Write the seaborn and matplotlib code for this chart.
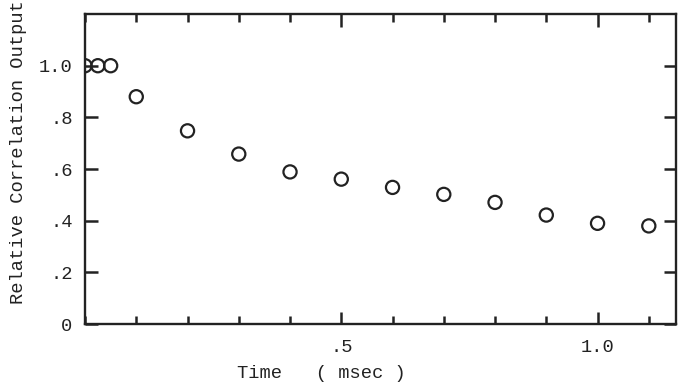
import numpy as np
import pandas as pd
import seaborn as sns
import matplotlib.pyplot as plt
from matplotlib.ticker import FixedLocator, MultipleLocator

time_msec = [0.0, 0.025, 0.05, 0.1, 0.2, 0.3, 0.4, 0.5, 0.6, 0.7, 0.8, 0.9, 1.0, 1.1]
rel_output = [1.0, 1.0, 1.0, 0.88, 0.748, 0.658, 0.589, 0.561, 0.529, 0.502, 0.471, 0.422, 0.39, 0.38]

x_ticks = [0.5, 1.0]
x_ticklabels = [".5", "1.0"]
y_ticks = [0.0, 0.2, 0.4, 0.6, 0.8, 1.0]
y_ticklabels = ["0", ".2", ".4", ".6", ".8", "1.0"]

df = pd.DataFrame({"time": time_msec, "output": rel_output})

sns.set_style("ticks")
plt.rcParams['font.family'] = ['Liberation Mono', 'DejaVu Sans Mono']

ink = "#222222"
fig = plt.figure(figsize=(6.78, 3.9), dpi=100)
ax = fig.add_axes([0.1254, 0.169, 0.8716, 0.795])

sns.scatterplot(data=df, x="time", y="output", ax=ax, marker="o", s=90,
                facecolor="none", edgecolor=ink, linewidth=1.6, legend=False)

ax.set_xlim(0, 1.153)
ax.set_ylim(0, 1.2)

ax.xaxis.set_major_locator(FixedLocator(x_ticks))
ax.set_xticklabels(x_ticklabels)
ax.xaxis.set_minor_locator(MultipleLocator(0.1))
ax.yaxis.set_major_locator(FixedLocator(y_ticks))
ax.set_yticklabels(y_ticklabels)

ax.tick_params(which="both", direction="in", top=True, right=True,
               color=ink, width=1.8, labelcolor=ink, labelsize=13.5)
ax.tick_params(which="major", length=9, pad=9)
ax.tick_params(which="minor", length=6)
ax.tick_params(axis="x", which="major", pad=11)

for sp in ax.spines.values():
    sp.set_linewidth(1.7)
    sp.set_color(ink)

ax.set_xlabel("")
ax.set_ylabel("")
fig.text(0.474, 0.02, "Time   ( msec )", ha="center", va="bottom", fontsize=13.5, color=ink)
fig.text(0.027, 0.61, "Relative Correlation Output", rotation=90, ha="center",
         va="center", fontsize=13.5, color=ink)

plt.savefig("out.png", dpi=100)
